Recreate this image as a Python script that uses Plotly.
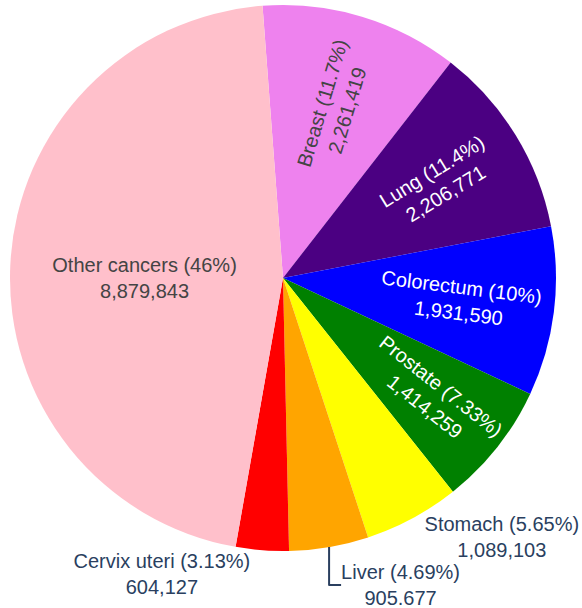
import plotly.graph_objects as go

labels = ["Breast", "Lung", "Colorectum", "Prostate", "Stomach", "Liver", "Cervix uteri", "Other cancers"]
values = [2261419, 2206771, 1931590, 1414259, 1089103, 905677, 604127, 8879843]
value_text = ["2,261,419", "2,206,771", "1,931,590", "1,414,259", "1,089,103", "905.677", "604,127", "8,879,843"]
colors = ["violet", "indigo", "blue", "green", "yellow", "orange", "red", "pink"]
inside_text_colors = ["#444444", "white", "white", "white", "#444444", "#444444", "white", "#444444"]

fig = go.Figure(go.Pie(
    labels=labels,
    values=values,
    text=value_text,
    texttemplate="%{label} (%{percent})<br>%{text}",
    sort=False,
    direction="clockwise",
    rotation=-4.3,
    marker=dict(colors=colors, line=dict(width=0)),
    textposition="auto",
    insidetextorientation="radial",
    insidetextfont=dict(color=inside_text_colors),
    outsidetextfont=dict(color="#2a3f5f"),
    automargin=False,
    showlegend=False,
))

fig.update_layout(
    width=582,
    height=608,
    margin=dict(l=10, r=26, t=5, b=57),
    font=dict(family="Liberation Sans, Arial, sans-serif", size=20),
    paper_bgcolor="white",
    plot_bgcolor="white",
    showlegend=False,
)

fig.write_html("out.html", config={"displayModeBar": False},
               post_script="document.body.style.margin='0';")
